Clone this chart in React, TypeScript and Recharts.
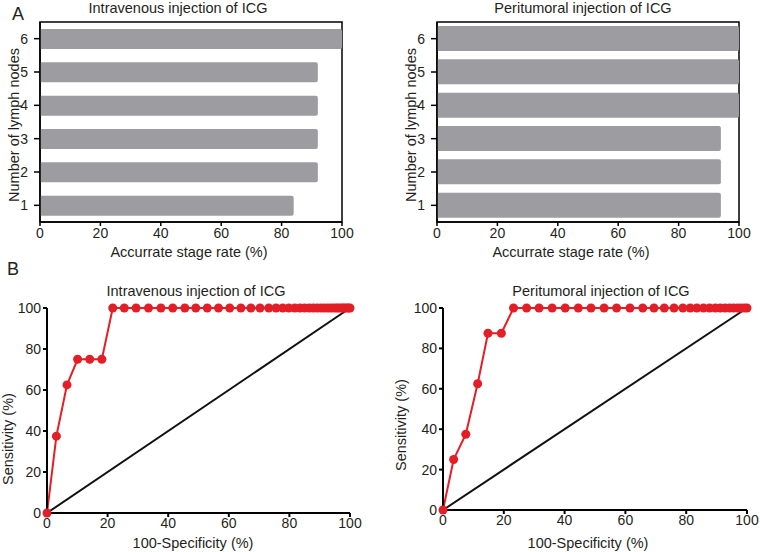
import React from 'react';
import { BarChart, Bar, XAxis, YAxis, ReferenceArea, LineChart, Line } from 'recharts';

const lymphNodeCounts = ['1', '2', '3', '4', '5', '6'];
const ivStageRates = [84, 92, 92, 92, 92, 100];
const ptStageRates = [94, 94, 94, 100, 100, 100];
const percentTicks = [0, 20, 40, 60, 80, 100];
const innerTicks = [20, 40, 60, 80];

const ivFpr = [
  0, 3.1, 6.6, 10.1, 14.1, 18.1, 21.7, 25.5, 29.4, 33.5,
  37.6, 41.5, 45.5, 49.1, 52.9, 56.6, 60.3, 64, 67.3, 70.3,
  73.2, 75.6, 77.8, 79.8, 81.8, 83.5, 85, 86.6, 87.9, 89.2,
  90.4, 91.5, 92.6, 93.6, 94.5, 95.4, 96.1, 96.9, 97.6, 98.2,
  98.9, 99.5, 100,
];
const ivTpr = [
  0, 37.5, 62.5, 75, 75, 75, 100, 100, 100, 100,
  100, 100, 100, 100, 100, 100, 100, 100, 100, 100,
  100, 100, 100, 100, 100, 100, 100, 100, 100, 100,
  100, 100, 100, 100, 100, 100, 100, 100, 100, 100,
  100, 100, 100,
];
const ptFpr = [
  0, 3.5, 7.5, 11.4, 14.8, 19.2, 23.2, 27.5, 31.6, 35.9,
  40.2, 44.5, 48.7, 53, 57.1, 61.5, 65.7, 69.4, 72.8, 76,
  78.9, 81.3, 83.5, 85.7, 87.7, 89.6, 91.2, 92.8, 94.3, 95.6,
  96.9, 98, 99.1, 100,
];
const ptTpr = [
  0, 25, 37.5, 62.5, 87.5, 87.5, 100, 100, 100, 100,
  100, 100, 100, 100, 100, 100, 100, 100, 100, 100,
  100, 100, 100, 100, 100, 100, 100, 100, 100, 100,
  100, 100, 100, 100,
];
const diagonal = [0, 100];

const FONT = '"Liberation Sans", Arial, Helvetica, sans-serif';
const TEXT = '#231f20';
const BAR_FILL = '#9d9da1';
const RED = '#e41e26';
const tickStyle = { fill: TEXT, fontSize: 14, fontFamily: FONT };

function Label({ x, y, text, rotate, size = 14.5 }: { x: number; y: number; text: string; rotate?: boolean; size?: number }) {
  return (
    <div
      style={{
        position: 'absolute',
        left: x,
        top: y,
        transform: `translate(-50%, -50%)${rotate ? ' rotate(-90deg)' : ''}`,
        whiteSpace: 'nowrap',
        fontSize: size,
        color: TEXT,
        fontFamily: FONT,
        lineHeight: 1,
      }}
    >
      {text}
    </div>
  );
}

const EmptyTick = () => <g />;

function BarPanel({ rates, marginLeft, marginRight, barSize }: { rates: number[]; marginLeft: number; marginRight: number; barSize: number }) {
  const data = lymphNodeCounts.map((c, i) => ({ cat: c, rate: rates[i] }));
  return (
    <BarChart
      width={380}
      height={270}
      layout="vertical"
      data={data}
      margin={{ top: 22, right: marginRight, left: marginLeft, bottom: 18 }}
      barCategoryGap={0}
    >
      <XAxis
        type="number"
        dataKey="rate"
        domain={[0, 100]}
        ticks={percentTicks}
        height={30}
        tick={tickStyle}
        tickSize={4}
        tickMargin={2}
        axisLine={{ stroke: '#000', strokeWidth: 1.5 }}
        tickLine={{ stroke: '#000', strokeWidth: 1.5 }}
      />
      <XAxis
        xAxisId="top"
        orientation="top"
        type="number"
        domain={[0, 100]}
        ticks={innerTicks}
        height={0}
        mirror
        tick={EmptyTick}
        tickSize={4}
        axisLine={false}
        tickLine={{ stroke: '#000', strokeWidth: 1.5 }}
      />
      <YAxis
        type="category"
        dataKey="cat"
        reversed
        width={40}
        tick={tickStyle}
        tickSize={6}
        tickMargin={6}
        axisLine={{ stroke: '#000', strokeWidth: 1.5 }}
        tickLine={{ stroke: '#000', strokeWidth: 1.5 }}
      />
      <Bar dataKey="rate" fill={BAR_FILL} barSize={barSize} radius={[0, 2, 2, 0]} isAnimationActive={false} />
      <ReferenceArea x1={0} x2={100} fill="none" fillOpacity={0} stroke="#000" strokeWidth={1.5} ifOverflow="visible" />
    </BarChart>
  );
}

function RocPanel({ fpr, tpr, marginLeft, marginRight, marginBottom }: { fpr: number[]; tpr: number[]; marginLeft: number; marginRight: number; marginBottom: number }) {
  const data = fpr.map((x, i) => ({ x, y: tpr[i] }));
  const diag = diagonal.map((v) => ({ x: v, y: v }));
  return (
    <LineChart width={380} height={282} margin={{ top: 38, right: marginRight, left: marginLeft, bottom: marginBottom }}>
      <XAxis
        type="number"
        dataKey="x"
        domain={[0, 100]}
        ticks={percentTicks}
        height={30}
        tick={tickStyle}
        tickSize={4}
        tickMargin={1}
        axisLine={{ stroke: '#000', strokeWidth: 2 }}
        tickLine={{ stroke: '#000', strokeWidth: 2 }}
      />
      <YAxis
        type="number"
        dataKey="y"
        domain={[0, 100]}
        ticks={percentTicks}
        width={46}
        tick={tickStyle}
        tickSize={4}
        tickMargin={2}
        axisLine={{ stroke: '#000', strokeWidth: 2 }}
        tickLine={{ stroke: '#000', strokeWidth: 2 }}
      />
      <Line data={diag} dataKey="y" stroke="#111" strokeWidth={2} dot={false} isAnimationActive={false} />
      <Line
        data={data}
        dataKey="y"
        stroke={RED}
        strokeWidth={2}
        dot={{ r: 4.5, fill: RED, stroke: RED, strokeWidth: 0 }}
        isAnimationActive={false}
      />
    </LineChart>
  );
}

export default function App() {
  return (
    <div style={{ position: 'absolute', left: 0, top: 0, width: 760, height: 552, background: '#fff', fontFamily: FONT, overflow: 'hidden' }}>
      <div style={{ position: 'absolute', left: 0, top: 0 }}>
        <BarPanel rates={ivStageRates} marginLeft={0} marginRight={38} barSize={20} />
      </div>
      <div style={{ position: 'absolute', left: 380, top: 0 }}>
        <BarPanel rates={ptStageRates} marginLeft={17} marginRight={21} barSize={25} />
      </div>
      <div style={{ position: 'absolute', left: 0, top: 270 }}>
        <RocPanel fpr={ivFpr} tpr={ivTpr} marginLeft={1} marginRight={30} marginBottom={9} />
      </div>
      <div style={{ position: 'absolute', left: 380, top: 270 }}>
        <RocPanel fpr={ptFpr} tpr={ptTpr} marginLeft={17} marginRight={13} marginBottom={12} />
      </div>

      <Label x={18} y={14} text="A" size={18} />
      <Label x={13} y={269} text="B" size={18} />

      <Label x={178} y={8} text="Intravenous injection of ICG" />
      <Label x={583} y={8} text="Peritumoral injection of ICG" />
      <Label x={14} y={125} text="Number of lymph nodes" rotate />
      <Label x={411} y={125} text="Number of lymph nodes" rotate />
      <Label x={189} y={252} text="Accurrate stage rate (%)" />
      <Label x={571} y={252} text="Accurrate stage rate (%)" />

      <Label x={196} y={291} text="Intravenous injection of ICG" />
      <Label x={601} y={291} text="Peritumoral injection of ICG" />
      <Label x={8} y={439} text="Sensitivity (%)" rotate />
      <Label x={401} y={425} text="Sensitivity (%)" rotate />
      <Label x={193} y={543} text="100-Specificity (%)" />
      <Label x={588} y={543} text="100-Specificity (%)" />
    </div>
  );
}
